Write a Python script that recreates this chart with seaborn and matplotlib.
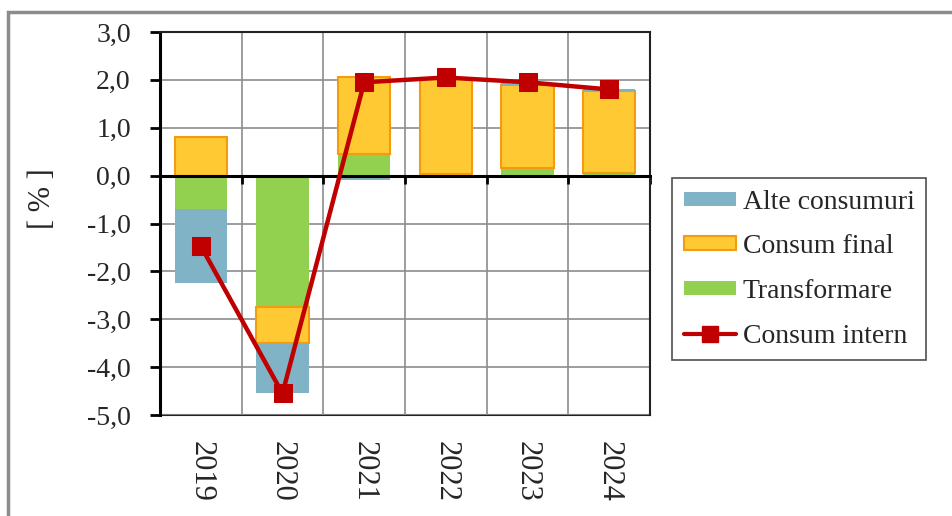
import numpy as np
import pandas as pd
import matplotlib
matplotlib.use("Agg")
import matplotlib.pyplot as plt
from matplotlib.ticker import FuncFormatter, FixedLocator
from matplotlib.patches import Rectangle, Patch
from matplotlib.lines import Line2D
import seaborn as sns

# ---- data ----
years = ["2019", "2020", "2021", "2022", "2023", "2024"]
transformare = [-0.70, -2.75, 0.45, 0.03, 0.15, 0.05]
consum_final = [0.80, -0.75, 1.60, 1.98, 1.75, 1.72]
alte_consumuri = [-1.55, -1.05, -0.10, 0.03, 0.03, 0.03]
consum_intern = [-1.47, -4.55, 1.95, 2.05, 1.95, 1.80]
y_ticks = [3, 2, 1, 0, -1, -2, -3, -4, -5]

sns.set_theme(style="white")
plt.rcParams["font.family"] = ["Liberation Serif", "DejaVu Serif"]

fig = plt.figure(figsize=(9.52, 5.16), dpi=100)
ax = fig.add_axes([160 / 952, 1 - 415 / 516, (650 - 160) / 952, (415 - 32) / 516])

series = [
    ("Transformare", transformare, "#92D050", "none", 0),
    ("Consum final", consum_final, "#FFC933", "#F39C12", 1.5),
    ("Alte consumuri", alte_consumuri, "#7FB3C5", "none", 0),
]

pos_base = np.zeros(len(years))
neg_base = np.zeros(len(years))
for name, vals, col, ec, lw in series:
    v = np.array(vals, dtype=float)
    bottom = np.where(v >= 0, pos_base, neg_base)
    df = pd.DataFrame({"year": years, "val": v})
    sns.barplot(data=df, x="year", y="val", ax=ax, color=col, saturation=1,
                width=0.64, bottom=bottom, edgecolor=ec, linewidth=lw, zorder=2)
    pos_base = pos_base + np.where(v >= 0, v, 0)
    neg_base = neg_base + np.where(v < 0, v, 0)

dfl = pd.DataFrame({"year": years, "val": consum_intern})
sns.lineplot(data=dfl, x="year", y="val", ax=ax, color="#C00000", linewidth=3.2,
             marker="s", markersize=13, markeredgecolor="#C00000", zorder=4,
             sort=False)

ax.set_ylim(-5, 3)
ax.set_xlim(-0.5, len(years) - 0.5)
ax.yaxis.set_major_locator(FixedLocator(y_ticks))
ax.yaxis.set_major_formatter(FuncFormatter(lambda v, p: f"{v:.1f}".replace(".", ",")))
ax.tick_params(axis="y", which="major", direction="out", length=7, width=2,
               color="black", labelsize=20, pad=14, left=True)

# zero axis with category boundary ticks
ax.spines["bottom"].set_position(("data", 0))
ax.spines["bottom"].set_color("black")
ax.spines["bottom"].set_linewidth(2.2)
ax.set_xticks(range(len(years)))
ax.tick_params(axis="x", which="major", length=0, labelbottom=False)
ax.set_xticks(np.arange(len(years) + 1) - 0.5, minor=True)
ax.tick_params(axis="x", which="minor", direction="out", length=6, width=2,
               color="black", bottom=True)

ax.grid(axis="y", which="major", color="#8C8C8C", linewidth=1.2, zorder=0)
ax.grid(axis="x", which="minor", color="#8C8C8C", linewidth=1.2, zorder=0)
ax.set_axisbelow(True)

ax.spines["left"].set_color("black")
ax.spines["left"].set_linewidth(2.2)
for s in ["top", "right"]:
    ax.spines[s].set_visible(True)
    ax.spines[s].set_color("#222222")
    ax.spines[s].set_linewidth(1.5)

# category labels at bottom of plot area
sec = ax.secondary_xaxis("bottom")
sec.set_xticks(range(len(years)))
sec.set_xticklabels(years, rotation=270, fontsize=22)
sec.tick_params(length=0, pad=19)
sec.spines["bottom"].set_color("#222222")
sec.spines["bottom"].set_linewidth(1.5)

ax.set_xlabel("")
ax.set_ylabel("[ % ]", fontsize=22)
ax.yaxis.set_label_coords(-0.21, 0.566)

handles = [
    Patch(facecolor="#7FB3C5", edgecolor="none"),
    Patch(facecolor="#FFC933", edgecolor="#F39C12", linewidth=1.5),
    Patch(facecolor="#92D050", edgecolor="none"),
    Line2D([], [], color="#C00000", linewidth=3, marker="s", markersize=11),
]
labels = ["Alte consumuri", "Consum final", "Transformare", "Consum intern"]
leg = fig.legend(handles, labels, loc="upper left",
                 bbox_to_anchor=(672 / 952, 1 - 178 / 516), fontsize=20,
                 frameon=True, fancybox=False, edgecolor="#222222",
                 handlelength=1.87, handleheight=0.4, handletextpad=0.25,
                 labelspacing=0.71, borderpad=0.42, borderaxespad=0)
leg.get_frame().set_linewidth(1.2)

# outer chart border
fig.patches.append(Rectangle((8 / 952, -0.2), 1.2, 1 - 12 / 516 + 0.2,
                             transform=fig.transFigure, fill=False,
                             edgecolor="#8C8C8C", linewidth=2.5))

fig.savefig("out.png", dpi=100)
